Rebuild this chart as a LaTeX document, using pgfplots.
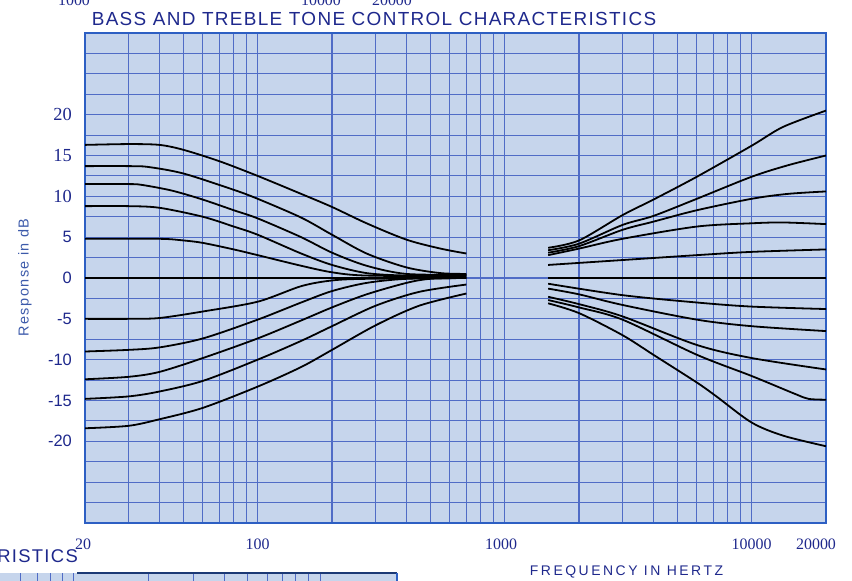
\documentclass[border=0pt]{standalone}
\usepackage{fontspec}
\setmainfont{Liberation Serif}
\newfontfamily\sans{Liberation Sans}
\newfontfamily\sanstitle[LetterSpace=7]{Liberation Sans}
\newfontfamily\sanslab[LetterSpace=18]{Liberation Sans}
\newfontfamily\sansy[LetterSpace=10]{Liberation Sans}
\usepackage{pgfplots}
\pgfplotsset{compat=1.18}
\definecolor{bgblue}{RGB}{198,213,236}
\definecolor{gridblue}{RGB}{80,108,198}
\definecolor{frameblue}{RGB}{45,95,195}
\definecolor{navy}{RGB}{30,40,140}
\definecolor{labblue}{RGB}{60,90,170}
\newcommand\ns[1]{{\fontsize{16.5}{16.5}\sans #1}}
\newcommand\nr[1]{{\fontsize{18.5}{18.5}\selectfont #1}}
\begin{document}
\begin{tikzpicture}
\useasboundingbox (0,0) rectangle (852bp,-581bp);
% fragments of neighbouring charts, cut by the page edge as in the scan
\node[anchor=base, text=navy, inner sep=0pt] at (74bp,-5bp) {\fontsize{16}{16}\selectfont 1000};
\node[anchor=base, text=navy, inner sep=0pt] at (321bp,-5bp) {\fontsize{16}{16}\selectfont 10000};
\node[anchor=base, text=navy, inner sep=0pt] at (392bp,-5bp) {\fontsize{16}{16}\selectfont 20000};
\node[anchor=east, text=navy, inner sep=0pt] at (78bp,-556.5bp) {\fontsize{18.5}{18.5}\sanstitle RISTICS};
\fill[bgblue] (0bp,-573bp) rectangle (397bp,-590bp);
\foreach \xx in {20,37,50,62,73,148,193,224,247,267,282,295,308,320}
  \draw[gridblue, line width=1bp] (\xx bp,-573bp) -- (\xx bp,-590bp);
\draw[frameblue!60!black, line width=1.8bp] (77bp,-573bp) -- (397bp,-573bp);
\draw[frameblue, line width=1.2bp] (397bp,-573bp) -- (397bp,-590bp);
% titles
\node[text=navy] at (374bp,-19bp) {\fontsize{19}{19}\sanstitle BASS AND TREBLE TONE CONTROL CHARACTERISTICS};
\node[text=navy] at (626.5bp,-571.5bp) {\fontsize{14}{14}\sanslab FREQUENCY IN HERTZ};
\node[rotate=90, text=labblue] at (25bp,-277.5bp) {\fontsize{14.5}{14.5}\sansy Response in dB};
\begin{axis}[
  at={(85bp,-523bp)}, anchor=south west,
  scale only axis, width=741bp, height=490bp,
  xmode=log, xmin=20, xmax=20000, ymin=-30, ymax=30,
  axis background/.style={fill=bgblue},
  axis line style={draw=frameblue, line width=1.5bp},
  xtick={20,30,40,50,60,70,80,90,100,200,300,400,500,600,700,800,900,1000,2000,3000,4000,5000,6000,7000,8000,9000,10000,20000},
  xticklabels={{\hspace*{-4bp}20},{},{},{},{},{},{},{},100,{},{},{},{},{},{},{},{},{\hspace*{-7bp}1000},{},{},{},{},{},{},{},{},10000,{\hspace*{-20bp}20000}},
  ytick={-30,-27.5,...,30},
  yticklabels={{},{},{},{},\ns{-20},{},\ns{-15},{},\ns{-10},{},\ns{-5},{},\ns{0},{},\ns{5},{},\nr{10},{},\nr{15},{},\nr{20},{},{},{},{}},
  xmajorgrids, ymajorgrids,
  major grid style={draw=gridblue, line width=1.1bp},
  major tick length=0pt,
  xticklabel style={anchor=center, inner sep=0pt, yshift=-21bp, text=navy, font=\fontsize{16}{16}\selectfont},
  yticklabel style={anchor=east, inner sep=0pt, xshift=-13bp, text=navy},
  curve/.style={black, solid, line width=1.8bp, smooth, mark=none},
]
% ---- bass boost
\addplot[curve] coordinates {(20,16.3) (30,16.4) (40,16.3) (50,15.7) (70,14.3) (100,12.5) (150,10.3) (200,8.7) (276,6.7) (400,4.7) (550,3.6) (700,3.0)};
\addplot[curve] coordinates {(20,13.7) (30,13.7) (36,13.6) (50,12.8) (80,10.8) (100,9.7) (150,7.4) (200,5.3) (276,3.0) (400,1.3) (550,0.6) (700,0.5)};
\addplot[curve] coordinates {(20,11.5) (30,11.5) (34,11.4) (45,10.7) (60,9.6) (80,8.3) (100,7.3) (150,5.0) (200,3.1) (276,1.5) (400,0.5) (700,0.4)};
\addplot[curve] coordinates {(20,8.8) (30,8.8) (40,8.6) (60,7.5) (80,6.3) (100,5.3) (150,3.0) (200,1.6) (276,0.6) (400,0.3) (700,0.3)};
\addplot[curve] coordinates {(20,4.8) (40,4.8) (50,4.6) (60,4.3) (80,3.5) (100,2.8) (150,1.5) (200,0.7) (276,0.3) (700,0.2)};
\addplot[curve] coordinates {(20,0) (700,0)};
% ---- bass cut
\addplot[curve] coordinates {(20,-5.0) (30,-5.0) (40,-4.9) (60,-4.1) (100,-2.9) (150,-1.0) (200,-0.3) (276,-0.1) (700,0)};
\addplot[curve] coordinates {(20,-9.0) (30,-8.8) (40,-8.5) (60,-7.4) (100,-5.1) (150,-3.0) (200,-1.6) (276,-0.6) (400,-0.1) (700,0)};
\addplot[curve] coordinates {(20,-12.4) (30,-12.1) (40,-11.5) (60,-9.8) (100,-7.4) (150,-5.2) (200,-3.6) (276,-2.0) (400,-0.6) (500,-0.1) (700,0)};
\addplot[curve] coordinates {(20,-14.8) (30,-14.5) (40,-13.9) (60,-12.6) (100,-10.0) (150,-7.7) (200,-5.9) (300,-3.4) (450,-1.7) (700,-0.8)};
\addplot[curve] coordinates {(20,-18.4) (30,-18.1) (40,-17.3) (60,-15.9) (100,-13.3) (150,-10.9) (200,-8.8) (300,-5.8) (450,-3.4) (700,-1.9)};
% ---- treble boost
\addplot[curve] coordinates {(1500,3.7) (2000,4.6) (3000,7.7) (4000,9.6) (6000,12.4) (10000,16.2) (13400,18.5) (20000,20.5)};
\addplot[curve] coordinates {(1500,3.4) (2000,4.2) (3000,6.5) (4000,7.6) (6000,9.7) (10000,12.4) (14000,13.8) (20000,15.0)};
\addplot[curve] coordinates {(1500,3.1) (2000,3.9) (3000,5.9) (4000,6.9) (6000,8.3) (10000,9.7) (14000,10.3) (20000,10.6)};
\addplot[curve] coordinates {(1500,2.8) (2000,3.6) (3000,4.8) (6000,6.3) (10000,6.7) (13400,6.8) (20000,6.6)};
\addplot[curve] coordinates {(1500,1.6) (3000,2.2) (6000,2.8) (10000,3.2) (20000,3.5)};
\addplot[curve] coordinates {(1500,0) (20000,0)};
% ---- treble cut
\addplot[curve] coordinates {(1500,-0.7) (3000,-2.1) (6000,-3.0) (10000,-3.5) (20000,-3.8)};
\addplot[curve] coordinates {(1500,-1.3) (2000,-2.0) (3000,-3.3) (6000,-5.1) (10000,-5.9) (20000,-6.5)};
\addplot[curve] coordinates {(1500,-2.3) (2000,-3.2) (3000,-4.7) (6000,-8.2) (10000,-9.8) (20000,-11.2)};
\addplot[curve] coordinates {(1500,-2.7) (2000,-3.6) (3000,-5.1) (6000,-9.4) (10000,-12.0) (15000,-14.2) (17000,-14.8) (20000,-14.9)};
\addplot[curve] coordinates {(1500,-3.1) (2000,-4.3) (3000,-7.0) (4000,-9.4) (6000,-12.8) (7200,-14.5) (10000,-17.7) (13400,-19.3) (20000,-20.6)};
\end{axis}
\end{tikzpicture}
\end{document}
